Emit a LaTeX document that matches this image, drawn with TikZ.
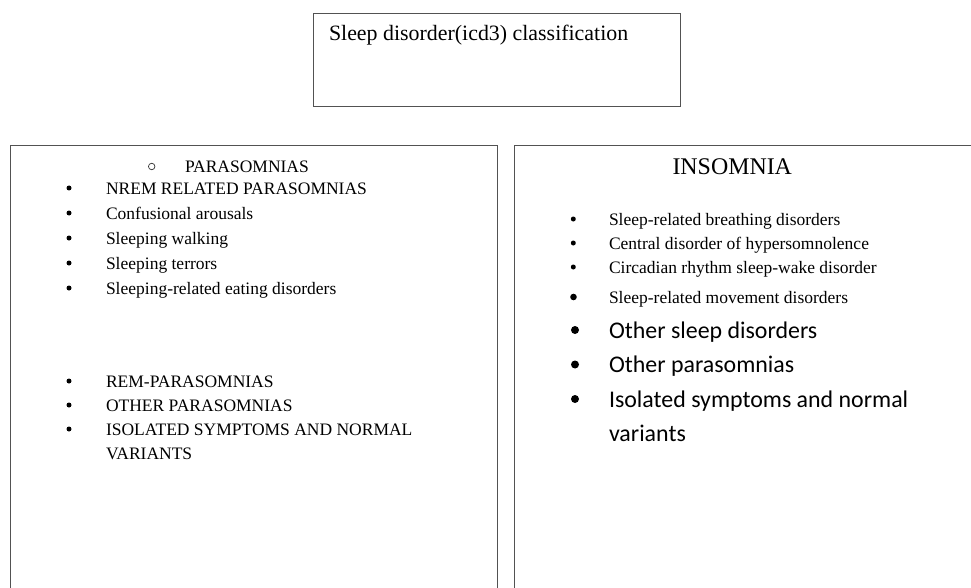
\documentclass[tikz,border=0pt]{standalone}
\usepackage{fontspec}
\setmainfont{Liberation Serif}
\newfontfamily\calib{Carlito}
\begin{document}
\begin{tikzpicture}[x=1pt,y=-1pt,
  boxline/.style={draw=black!68,line width=1.3pt},
  txt/.style={anchor=base west,inner sep=0pt,outer sep=0pt},
  ltxt/.style={txt,font=\fontsize{17.5}{20}\selectfont},
  rtxt/.style={txt,font=\fontsize{17.5}{20}\selectfont},
  ctxt/.style={txt,font=\calib\fontsize{23.9}{28}\selectfont},
  lbul/.style={circle,fill=black,inner sep=0pt,minimum size=5pt},
  mbul/.style={circle,fill=black,inner sep=0pt,minimum size=6.6pt},
  cbul/.style={circle,fill=black,inner sep=0pt,minimum size=8pt},
  obul/.style={circle,draw=black!80,line width=0.7pt,inner sep=0pt,minimum size=6.5pt}]
\useasboundingbox (0,0) rectangle (971,588);
\clip (0,0) rectangle (971,588);
% boxes
\node[boxline,anchor=north west,minimum width=367pt,minimum height=93pt,inner sep=0pt] (top) at (313,13) {};
\node[boxline,anchor=north west,minimum width=487pt,minimum height=480pt,inner sep=0pt] (left) at (10,145) {};
\node[boxline,anchor=north west,minimum width=480pt,minimum height=480pt,inner sep=0pt] (right) at (514,145) {};
% title
\node[txt,font=\fontsize{21.9}{26}\selectfont] (title) at (329,41) {Sleep disorder(icd3) classification};
% left box
\node[obul] (o1) at (151.7,166.5) {};
\node[ltxt] (para) at (185,172) {PARASOMNIAS};
\node[lbul] (b1) at (69,188) {};
\node[ltxt] (t1) at (106,194) {NREM RELATED PARASOMNIAS};
\node[lbul] (b2) at (69,213) {};
\node[ltxt] (t2) at (106,219) {Confusional arousals};
\node[lbul] (b3) at (69,238) {};
\node[ltxt] (t3) at (106,244) {Sleeping walking};
\node[lbul] (b4) at (69,263) {};
\node[ltxt] (t4) at (106,269) {Sleeping terrors};
\node[lbul] (b5) at (69,288) {};
\node[ltxt] (t5) at (106,294) {Sleeping-related eating disorders};
\node[lbul] (b6) at (69,381) {};
\node[ltxt] (t6) at (106,387) {REM-PARASOMNIAS};
\node[lbul] (b7) at (69,405) {};
\node[ltxt] (t7) at (106,411) {OTHER PARASOMNIAS};
\node[lbul] (b8) at (69,429) {};
\node[ltxt] (t8) at (106,435) {ISOLATED SYMPTOMS AND NORMAL};
\node[ltxt] (t9) at (106,459) {VARIANTS};
% right box
\node[txt,font=\fontsize{23.9}{28}\selectfont] (ins) at (672.5,175) {INSOMNIA};
\node[lbul] (r1) at (573.3,219) {};
\node[rtxt] (s1) at (609,225) {Sleep-related breathing disorders};
\node[lbul] (r2) at (573.3,243) {};
\node[rtxt] (s2) at (609,249.3) {Central disorder of hypersomnolence};
\node[lbul] (r3) at (573.3,267) {};
\node[rtxt] (s3) at (609,273.3) {Circadian rhythm sleep-wake disorder};
\node[mbul] (r4) at (573.5,297) {};
\node[rtxt] (s4) at (609,303.3) {Sleep-related movement disorders};
\node[cbul] (r5) at (575,330) {};
\node[ctxt] (s5) at (609,338.3) {Other sleep disorders};
\node[cbul] (r6) at (575,364.5) {};
\node[ctxt] (s6) at (609,372.7) {Other parasomnias};
\node[cbul] (r7) at (575,399) {};
\node[ctxt] (s7) at (609,407.3) {Isolated symptoms and normal};
\node[ctxt] (s8) at (609,441.7) {variants};
\end{tikzpicture}
\end{document}
